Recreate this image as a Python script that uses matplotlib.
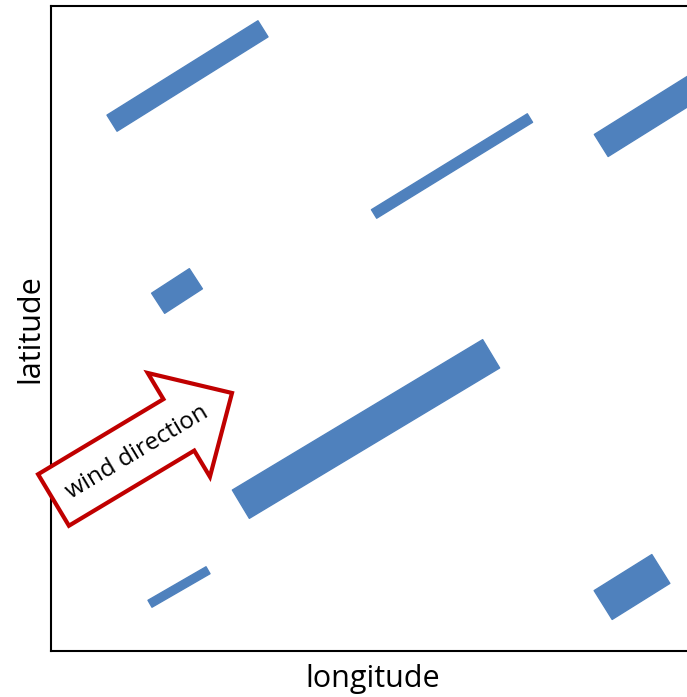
import numpy as np
import matplotlib.pyplot as plt
from matplotlib.patches import Rectangle, FancyArrow

# plume bars: centre, length, width, angle (deg)
bar_x = [187.5, 452, 650, 177, 366, 179, 632]
bar_y = [621, 531, 582, 406, 268, 110, 110]
bar_len = [178, 183, 115, 45, 292, 67, 68]
bar_wid = [19, 10, 26, 24, 33, 8, 34]
bar_ang = [32, 31.6, 32, 33, 31, 30, 32]

# wind arrow: tail centre, tip
arrow_tail = (53.5, 197)
arrow_tip = (232, 304)
arrow_label = "wind direction"

BLUE = '#4F81BD'
RED = '#C00000'

fig = plt.figure(figsize=(6.87, 6.97), dpi=100)
ax = fig.add_axes([51 / 687, 46 / 697, 644 / 687, 645 / 697])
ax.set_xlim(51, 695)
ax.set_ylim(46, 691)

for x, y, L, w, a in zip(bar_x, bar_y, bar_len, bar_wid, bar_ang):
    r = Rectangle((x - L / 2, y - w / 2), L, w, angle=a, rotation_point='center',
                  facecolor=BLUE, edgecolor=BLUE, linewidth=1, joinstyle='round')
    ax.add_patch(r)

dx = arrow_tip[0] - arrow_tail[0]
dy = arrow_tip[1] - arrow_tail[1]
arr = FancyArrow(arrow_tail[0], arrow_tail[1], dx, dy, width=60, head_width=121,
                 head_length=62, length_includes_head=True,
                 facecolor='white', edgecolor=RED, linewidth=3, joinstyle='miter',
                 clip_on=False, zorder=3)
ax.add_patch(arr)
ang = np.degrees(np.arctan2(dy, dx))
ax.text(137, 245, arrow_label, rotation=ang, rotation_mode='anchor',
        ha='center', va='center', fontsize=17.5, family='Open Sans', color='black',
        zorder=4)

ax.set_xticks([])
ax.set_yticks([])
ax.spines['right'].set_visible(False)
for s in ['left', 'bottom', 'top']:
    ax.spines[s].set_linewidth(1.5)
    ax.spines[s].set_color('black')

ax.set_xlabel('longitude', fontsize=22, family='Open Sans', labelpad=9)
ax.set_ylabel('latitude', fontsize=22, family='Open Sans', labelpad=4)

fig.savefig('out.png', dpi=100)
